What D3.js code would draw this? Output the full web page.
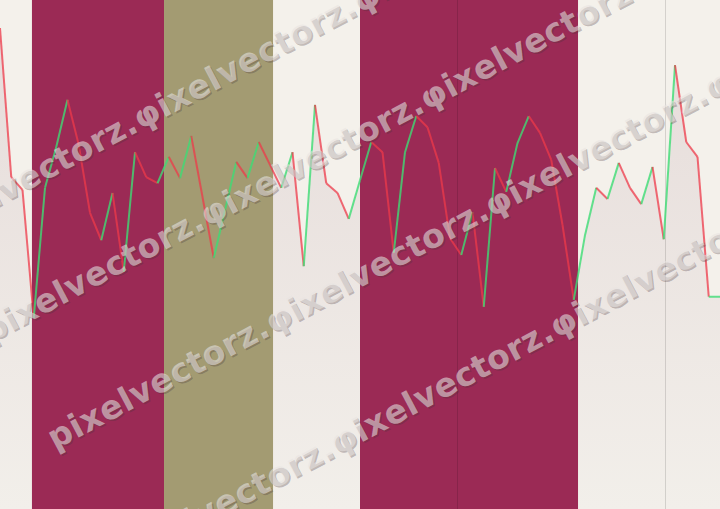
<!DOCTYPE html>
<html><head><meta charset="utf-8">
<script src="https://cdn.jsdelivr.net/npm/d3@7"></script>
<style>html,body{margin:0;padding:0;background:#f4f1eb;overflow:hidden}</style>
</head><body>
<svg id="chart" width="720" height="509"></svg>
<script>
// ---- data ----
const values = [94.5,65.2,62.7,37.5,63.1,71.1,80.4,71.5,58.2,52.8,62.1,46.6,70.1,65.2,64.0,69.2,65.0,73.3,61.3,49.3,58.7,68.2,65.0,72.1,67.6,63.1,70.1,47.7,79.4,64.0,62.1,57.0,64.6,72.1,70.1,50.3,70.1,77.2,75.0,68.0,53.2,49.9,58.3,39.7,67.0,62.3,71.9,77.2,73.9,68.6,55.8,41.1,53.8,63.1,60.9,68.0,63.1,59.9,67.2,53.0,87.2,72.1,69.2,41.7,41.7];
const bandStarts = [2.84, 14.58, 32.0];
const bandEnds   = [14.58, 24.27, 51.38];
const bandKinds  = ["regime A", "regime B", "regime A"];
const gridMarks  = [40.62, 59.11];
const watermarkText = "pixelvectorz.φixelvectorz.φixelvectorz.φixelvectorz.";

// ---- drawing ----
const W = 720, H = 509;
const svg = d3.select("#chart");
const x = d3.scaleLinear().domain([0, values.length - 1]).range([0, W]);
const y = d3.scaleLinear().domain([0, 100]).range([H, 0]);
const bandColor = d3.scaleOrdinal().domain(["regime A","regime B"]).range(["#9b2a55","#a39b72"]);

svg.append("rect").attr("width", W).attr("height", H).attr("fill", "#f4f1eb");

const defs = svg.append("defs");
const grad = defs.append("linearGradient").attr("id","areaGrad")
  .attr("gradientUnits","userSpaceOnUse").attr("x1",0).attr("x2",0)
  .attr("y1", y(d3.max(values))).attr("y2", H);
grad.append("stop").attr("offset","0%").attr("stop-color","#e6dcda");
grad.append("stop").attr("offset","100%").attr("stop-color","#f2efea");

const pts = values.map((v,i)=>[i,v]);
svg.append("path").datum(pts)
  .attr("d", d3.area().x(d=>x(d[0])).y0(H).y1(d=>y(d[1])))
  .attr("fill","url(#areaGrad)");

svg.selectAll("rect.band").data(bandStarts.map((s,i)=>({s, e: bandEnds[i], k: bandKinds[i]})))
  .join("rect").attr("class","band")
  .attr("x", d=>x(d.s)).attr("width", d=>x(d.e)-x(d.s))
  .attr("y",0).attr("height",H).attr("fill", d=>bandColor(d.k));

svg.selectAll("line.grid").data(gridMarks).join("line").attr("class","grid")
  .attr("x1", d=>Math.round(x(d))+0.5).attr("x2", d=>Math.round(x(d))+0.5)
  .attr("y1",0).attr("y2",H).attr("stroke","rgba(0,0,0,0.13)").attr("stroke-width",1);

const segs = d3.pairs(pts);
const line = d3.line().x(d=>x(d[0])).y(d=>y(d[1]));
svg.selectAll("path.seg").data(segs).join("path").attr("class","seg")
  .attr("d", d=>line(d)).attr("fill","none")
  .attr("stroke", d=> d[1][1] >= d[0][1] ? "#3ddc74" : "#ee3a4a")
  .attr("stroke-opacity", d=> d[1][1] >= d[0][1] ? 0.8 : 0.75)
  .attr("stroke-width", 2).attr("stroke-linecap","butt");

// watermark
const rows = [[-77,246],[-10,343],[55,450],[120,571]];
const wm = svg.append("g").attr("font-family","'DejaVu Sans', sans-serif")
  .attr("font-weight","bold").attr("font-size",33).attr("letter-spacing","0.5px");
rows.forEach(([rx,ry])=>{
  wm.append("text").attr("transform",`translate(${rx+1.5},${ry+1.5}) rotate(-28)`)
    .attr("fill","rgba(70,50,55,0.3)").text(watermarkText);
  wm.append("text").attr("transform",`translate(${rx},${ry}) rotate(-28)`)
    .attr("fill","rgba(232,228,226,0.58)").text(watermarkText);
});
</script>
</body></html>
